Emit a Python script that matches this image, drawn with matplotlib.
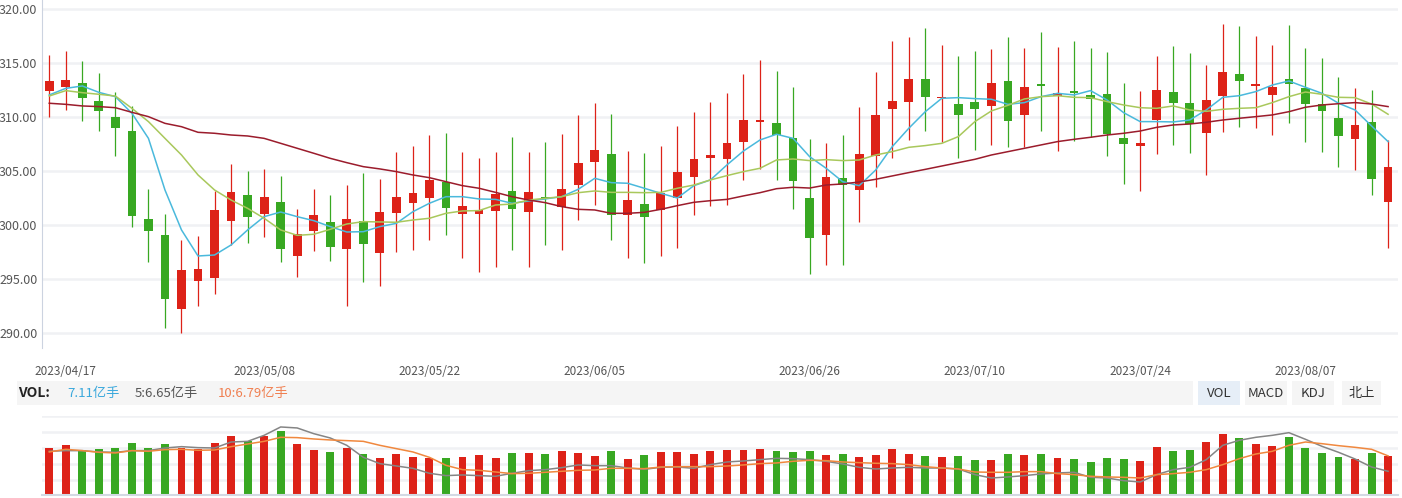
import numpy as np
import matplotlib
matplotlib.use("Agg")
import matplotlib.pyplot as plt
from matplotlib.patches import Rectangle

plt.rcParams['font.family'] = ['Noto Sans CJK SC', 'DejaVu Sans']

# daily k-line (price)
opens = np.array([
    312.44, 312.75, 313.15, 311.48, 310.00, 308.70, 300.56, 299.07, 292.25, 294.85,
    295.12, 300.40, 302.78, 301.05, 302.13, 297.16, 299.48, 300.28, 297.81, 300.37,
    297.44, 301.14, 302.07, 302.53, 303.98, 301.05, 301.05, 301.33, 303.15, 301.23,
    302.59, 301.70, 303.73, 305.86, 306.57, 300.96, 301.94, 301.42, 302.53, 304.48,
    306.23, 306.14, 307.72, 309.57, 309.44, 308.06, 302.50, 299.10, 304.35, 303.27,
    306.42, 310.77, 311.42, 313.52, 311.75, 311.17, 311.39, 311.05, 313.33, 310.22,
    312.96, 311.94, 312.41, 312.04, 312.13, 308.06, 307.35, 309.75, 312.31, 311.30,
    308.55, 311.98, 313.98, 312.90, 312.07, 313.52, 312.69, 311.20, 309.91, 308.00,
    309.54, 302.16])
closes = np.array([
    313.33, 313.43, 311.79, 310.56, 309.01, 300.86, 299.48, 293.18, 295.83, 295.93,
    301.39, 303.06, 300.77, 302.59, 297.81, 299.17, 300.93, 298.00, 300.56, 298.27,
    301.20, 302.59, 302.96, 304.17, 301.60, 301.76, 301.39, 302.87, 301.51, 303.06,
    302.44, 303.33, 305.74, 306.94, 300.96, 302.31, 300.77, 302.96, 304.91, 306.11,
    306.48, 307.59, 309.72, 309.72, 308.36, 304.11, 298.83, 304.44, 303.67, 306.57,
    310.19, 311.48, 313.52, 311.88, 311.85, 310.22, 310.77, 313.15, 309.66, 312.78,
    312.90, 312.19, 312.25, 311.70, 308.46, 307.53, 307.59, 312.50, 311.33, 309.35,
    311.57, 314.17, 313.36, 312.96, 312.78, 313.09, 311.23, 310.59, 308.27, 309.26,
    304.29, 305.37])
highs = np.array([
    315.74, 316.11, 315.19, 314.10, 312.31, 311.02, 303.33, 301.02, 298.61, 298.98,
    303.15, 305.65, 305.00, 305.19, 304.54, 301.48, 303.33, 302.78, 303.70, 304.81,
    304.26, 306.76, 307.31, 308.33, 308.52, 306.76, 306.20, 306.76, 308.15, 306.76,
    307.69, 308.43, 310.19, 311.30, 310.28, 306.85, 306.67, 307.31, 309.17, 310.46,
    311.39, 312.22, 313.98, 315.28, 314.26, 312.78, 307.96, 307.59, 308.33, 310.93,
    314.17, 317.04, 317.41, 318.24, 316.67, 315.65, 316.11, 316.30, 317.41, 316.39,
    317.87, 316.48, 317.04, 316.39, 316.02, 313.15, 312.41, 315.65, 316.57, 315.93,
    314.81, 318.61, 318.43, 317.50, 316.67, 318.52, 316.39, 315.46, 313.70, 312.69,
    312.50, 307.87])
lows = np.array([
    310.03, 310.65, 309.66, 308.73, 306.42, 299.85, 296.60, 290.49, 290.03, 292.53,
    293.61, 298.15, 298.36, 298.92, 296.60, 295.22, 297.62, 296.70, 292.53, 294.75,
    294.38, 297.53, 297.72, 298.64, 299.10, 296.98, 295.68, 296.14, 297.72, 296.14,
    298.18, 297.72, 300.49, 301.88, 298.64, 296.98, 296.51, 297.16, 297.90, 300.96,
    301.79, 301.88, 304.20, 305.19, 304.20, 301.51, 295.49, 296.33, 296.33, 300.31,
    303.55, 306.23, 307.87, 308.73, 307.72, 306.23, 306.98, 307.44, 307.25, 307.25,
    308.73, 306.88, 307.81, 308.18, 306.42, 303.83, 303.18, 306.60, 307.44, 306.70,
    304.66, 308.64, 309.10, 309.01, 308.36, 309.48, 307.72, 306.79, 305.40, 305.12,
    302.81, 297.90])

# moving averages as shown on the chart
ma5 = [312.04, 312.65, 312.87, 312.28, 311.88, 310.34, 308.02, 303.24, 299.54, 297.13,
       297.22, 298.15, 299.54, 300.77, 301.20, 300.77, 300.40, 299.85, 299.35, 299.38,
       299.85, 300.15, 301.23, 302.01, 302.62, 302.62, 302.41, 302.37, 302.01, 302.22,
       302.41, 302.62, 303.30, 304.32, 303.92, 303.86, 303.40, 302.93, 302.50, 303.64,
       304.17, 305.56, 306.85, 307.87, 308.40, 308.02, 306.33, 305.25, 304.01, 303.64,
       305.09, 307.25, 308.95, 310.49, 311.73, 311.79, 311.70, 311.64, 311.17, 311.33,
       311.88, 312.19, 312.04, 312.44, 311.57, 310.40, 309.57, 309.57, 309.54, 309.72,
       310.65, 311.82, 311.97, 312.35, 312.96, 313.33, 312.75, 312.19, 311.27, 310.65,
       309.17, 307.72]
ma10 = [311.94, 312.44, 312.25, 312.10, 311.94, 310.80, 309.57, 308.02, 306.48, 304.63,
        303.24, 302.31, 301.54, 300.62, 299.54, 299.04, 299.14, 299.60, 300.09, 300.31,
        300.28, 300.25, 300.46, 300.62, 301.08, 301.30, 301.33, 301.85, 301.94, 302.31,
        302.47, 302.62, 302.99, 303.15, 303.02, 303.02, 302.99, 303.02, 303.40, 303.70,
        304.17, 304.57, 304.94, 305.25, 306.02, 306.11, 305.96, 306.05, 305.96, 306.02,
        306.48, 306.79, 307.19, 307.35, 307.56, 308.18, 309.57, 310.56, 311.08, 311.67,
        311.88, 311.97, 311.82, 311.79, 311.42, 311.11, 310.86, 310.80, 311.02, 310.65,
        310.52, 310.71, 310.80, 310.86, 311.33, 311.88, 312.31, 312.10, 311.82, 311.79,
        311.20, 310.25]
ma20 = [311.27, 311.17, 311.02, 310.96, 310.86, 310.43, 310.03, 309.41, 309.10, 308.58,
        308.49, 308.33, 308.24, 308.02, 307.56, 307.10, 306.64, 306.17, 305.77, 305.40,
        305.19, 304.94, 304.63, 304.38, 304.01, 303.64, 303.40, 303.02, 302.62, 302.31,
        302.07, 301.70, 301.45, 301.39, 301.08, 301.08, 301.17, 301.45, 301.79, 302.10,
        302.25, 302.37, 302.69, 302.99, 303.36, 303.49, 303.42, 303.70, 303.80, 303.98,
        304.23, 304.54, 304.85, 305.15, 305.46, 305.77, 306.08, 306.48, 306.79, 307.10,
        307.41, 307.72, 307.93, 308.12, 308.33, 308.49, 308.70, 309.04, 309.26, 309.35,
        309.51, 309.72, 309.88, 310.03, 310.19, 310.49, 310.90, 311.11, 311.23, 311.33,
        311.20, 310.96]

# volume, 亿手
volume = [8.56, 9.10, 8.20, 8.38, 8.56, 9.46, 8.56, 9.28, 8.56, 8.38,
          9.46, 10.73, 9.76, 10.73, 11.63, 9.28, 8.20, 7.84, 8.56, 7.47,
          6.75, 7.47, 6.93, 6.75, 6.75, 6.93, 7.29, 6.75, 7.66, 7.66,
          7.47, 8.02, 7.66, 7.11, 8.02, 6.57, 7.29, 7.84, 7.84, 7.47,
          8.02, 8.20, 8.20, 8.38, 8.02, 7.84, 8.02, 7.29, 7.47, 6.93,
          7.29, 8.38, 7.47, 7.11, 6.93, 7.11, 6.39, 6.39, 7.47, 7.29,
          7.47, 6.75, 6.57, 6.03, 6.75, 6.57, 6.21, 8.74, 8.02, 8.20,
          9.64, 11.09, 10.37, 9.28, 8.92, 10.55, 8.56, 7.66, 6.93, 6.57,
          7.66, 7.11]
vol_ma5 = [7.96, 8.08, 8.08, 7.84, 7.78, 8.08, 8.08, 8.56, 8.80, 8.62,
           8.56, 9.64, 9.76, 10.85, 12.36, 12.18, 11.15, 10.37, 9.04, 6.87,
           5.73, 5.30, 4.88, 3.98, 3.56, 3.68, 3.56, 3.44, 3.98, 4.46,
           4.64, 5.00, 5.49, 5.36, 5.36, 4.94, 4.70, 5.06, 5.12, 4.88,
           5.55, 6.03, 6.21, 6.45, 6.69, 6.63, 6.45, 6.15, 5.67, 5.06,
           4.76, 4.94, 5.06, 4.94, 4.94, 4.76, 3.74, 3.13, 3.32, 3.56,
           3.86, 4.04, 4.16, 3.25, 3.13, 2.65, 2.41, 3.74, 4.64, 5.06,
           6.45, 9.04, 9.95, 10.49, 10.85, 11.33, 10.13, 8.86, 7.78, 6.57,
           5.12, 4.34]
vol_ma10 = [7.84, 8.32, 8.08, 7.78, 7.66, 8.08, 7.96, 8.26, 8.32, 8.14,
            8.20, 8.80, 9.28, 9.76, 10.49, 10.43, 10.19, 10.01, 9.89, 9.76,
            9.04, 8.44, 7.84, 6.87, 5.42, 4.64, 4.52, 4.22, 3.92, 3.98,
            4.16, 4.34, 4.52, 4.58, 4.88, 4.88, 4.82, 5.12, 5.18, 5.18,
            5.18, 5.30, 5.49, 5.73, 5.85, 6.15, 6.33, 6.27, 6.03, 5.91,
            5.79, 5.73, 5.55, 5.18, 4.94, 4.76, 4.22, 4.16, 4.16, 4.28,
            4.28, 3.92, 3.74, 3.44, 3.32, 3.25, 3.13, 3.74, 3.92, 4.16,
            4.64, 5.55, 6.63, 7.47, 7.96, 9.04, 9.64, 9.34, 8.98, 8.68,
            8.32, 7.13]

tick_idx = [1, 13, 23, 33, 46, 56, 66, 76]
tick_labels = ['2023/04/17', '2023/05/08', '2023/05/22', '2023/06/05',
               '2023/06/26', '2023/07/10', '2023/07/24', '2023/08/07']

RED = '#dd2218'
GREEN = '#38a822'
GRID = '#f0f1f4'

W, H = 1402, 498
fig = plt.figure(figsize=(W / 100, H / 100), dpi=100)


def box(x0, y0, x1, y1):
    # pixel box (top-down) -> figure rect
    return [x0 / W, 1 - y1 / H, (x1 - x0) / W, (y1 - y0) / H]


n = len(closes)
x = np.arange(n)
colors = np.where(closes >= opens, RED, GREEN)
xlim = (-0.47, 81.6)

# price panel
ax = fig.add_axes(box(41.5, 0, 1398, 348))
ax.vlines(x, lows, highs, colors=colors, lw=0.9, zorder=2)
body_lo = np.minimum(opens, closes)
body_h = np.maximum(np.abs(closes - opens), 0.12)
ax.bar(x, body_h, bottom=body_lo, width=0.53, color=colors, zorder=3)
ax.plot(x, ma5, color='#4ab9dc', lw=1.1, zorder=4)
ax.plot(x, ma10, color='#a9c85c', lw=1.1, zorder=4)
ax.plot(x, ma20, color='#9b1c2c', lw=1.1, zorder=4)
ax.set_xlim(*xlim)
ax.set_ylim(288.61, 320.83)
ax.set_yticks(np.arange(290, 321, 5))
ax.yaxis.set_major_formatter(lambda v, p: f'{v:.2f}')
ax.grid(axis='y', color=GRID, lw=1.8)
ax.set_axisbelow(True)
for s in ['top', 'right', 'bottom']:
    ax.spines[s].set_visible(False)
ax.spines['left'].set_color('#ccd3e0')
ax.tick_params(axis='y', length=0, pad=3, labelsize=9, labelcolor='#555555')
ax.set_xticks(tick_idx, tick_labels)
ax.tick_params(axis='x', length=0, pad=12.5, labelsize=8.5, labelcolor='#555555')

# volume panel
axv = fig.add_axes(box(41.5, 416.3, 1398, 495.3))
axv.bar(x, volume, width=0.48, color=colors, zorder=2)
axv.plot(x, vol_ma5, color='#858585', lw=1.1, zorder=3)
axv.plot(x, vol_ma10, color='#f0883e', lw=1.1, zorder=3)
axv.set_xlim(*xlim)
axv.set_ylim(0, 14.29)
axv.set_yticks(np.linspace(0, 14.29, 6)[1:])
axv.grid(axis='y', color=GRID, lw=1.8)
axv.set_axisbelow(True)
for s in ['top', 'right', 'left']:
    axv.spines[s].set_visible(False)
axv.spines['bottom'].set_color('#d3d9e3')
axv.spines['bottom'].set_linewidth(1.5)
axv.set_xticks([])
axv.tick_params(axis='y', length=0, labelleft=False)

# indicator bar
def rect(x0, y0, x1, y1, color):
    fig.add_artist(Rectangle((x0 / W, 1 - y1 / H), (x1 - x0) / W, (y1 - y0) / H,
                             transform=fig.transFigure, color=color, lw=0, zorder=0))


rect(17, 381, 1193, 405, '#f5f5f5')
yc = 1 - 393 / H
fig.text(18 / W, yc, 'VOL:', fontsize=10, fontweight='bold', color='#222222', va='center')
fig.text(67 / W, yc, '7.11亿手', fontsize=9.5, color='#3aa8dc', va='center')
fig.text(135 / W, yc, '5:6.65亿手', fontsize=9.5, color='#555555', va='center')
fig.text(218 / W, yc, '10:6.79亿手', fontsize=9.5, color='#f07f50', va='center')

buttons = [('VOL', 1198, 1240, '#e6eef7'), ('MACD', 1245, 1287, '#f5f5f5'),
           ('KDJ', 1292, 1334, '#f5f5f5'), ('北上', 1342, 1381, '#f5f5f5')]
for label, x0, x1, bg in buttons:
    rect(x0, 381, x1, 405, bg)
    fig.text((x0 + x1) / 2 / W, yc, label, fontsize=9.5, color='#333333',
             ha='center', va='center')

fig.savefig('out.png', dpi=100)
